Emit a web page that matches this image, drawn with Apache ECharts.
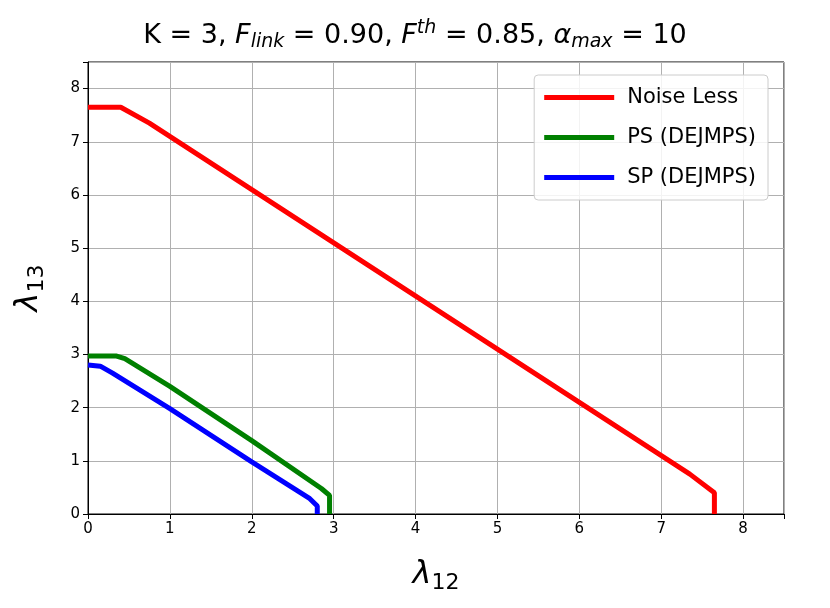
<!DOCTYPE html>
<html><head><meta charset="utf-8">
<script src="https://cdn.jsdelivr.net/npm/echarts@6/dist/echarts.min.js"></script>
<style>html,body{margin:0;padding:0;background:#fff}#c{width:830px;height:608px}</style>
</head><body><div id="c"></div>
<script>
const seriesNames = ['Noise Less', 'PS (DEJMPS)', 'SP (DEJMPS)'];
const colors = ['#ff0000', '#008000', '#0000ff'];
const noiseLess = [[0,7.65],[0.4,7.65],[0.75,7.35],[7.35,0.75],[7.65,0.4],[7.65,0]];
const psDejmps = [[0,2.97],[0.35,2.97],[0.45,2.92],[1,2.4],[2,1.38],[2.85,0.48],[2.95,0.35],[2.95,0]];
const spDejmps = [[0,2.8],[0.15,2.78],[0.3,2.65],[1,1.98],[2,0.98],[2.7,0.3],[2.8,0.15],[2.8,0]];
const allData = [noiseLess, psDejmps, spDejmps];
const chart = echarts.init(document.getElementById('c'));
const ff = 'DejaVu Sans';
const axisCommon = {
  min: 0, max: 8.5, interval: 1,
  axisLine: {show: true, lineStyle: {color: '#000', width: 1}},
  axisTick: {show: true, inside: false, length: 5, lineStyle: {color: '#000'}},
  axisLabel: {color: '#000', fontSize: 15, fontFamily: ff, formatter: v => Number.isInteger(v) ? String(v) : ''},
  splitLine: {show: true, lineStyle: {color: '#b0b0b0', width: 1}}
};
const nameRich = {a: {fontSize: 32, fontFamily: ff, fontStyle: 'italic', color: '#000'}, b: {fontSize: 22, fontFamily: ff, color: '#000', verticalAlign: 'bottom', padding: [16,0,0,0]}};
chart.setOption({
  animation: false,
  title: {
    left: 'center', top: 14,
    text: '{n|K = 3, }{i|F}{s|link}{n| = 0.90, }{i|F}{p|th}{n| = 0.85, }{i|α}{s|max}{n| = 10}',
    textStyle: {fontWeight: 'normal', rich: {
      n: {fontSize: 27, fontFamily: ff, fontWeight: 'normal', color: '#000'},
      i: {fontSize: 27, fontFamily: ff, fontWeight: 'normal', fontStyle: 'italic', color: '#000'},
      s: {fontSize: 19, fontFamily: ff, fontWeight: 'normal', fontStyle: 'italic', color: '#000', verticalAlign: 'bottom', padding: [14,0,0,0]},
      p: {fontSize: 19, fontFamily: ff, fontWeight: 'normal', fontStyle: 'italic', color: '#000', verticalAlign: 'top', padding: [0,0,12,0]}
    }}
  },
  grid: {left: 88, right: 46, top: 62, bottom: 94, show: true, borderColor: '#000', borderWidth: 1},
  legend: {
    data: seriesNames, orient: 'vertical', right: 62, top: 75,
    itemWidth: 70, itemHeight: 5, itemGap: 19, icon: 'rect',
    padding: [12, 12, 12, 10],
    backgroundColor: 'rgba(255,255,255,0.85)', borderColor: '#cccccc', borderWidth: 1, borderRadius: 4,
    textStyle: {fontSize: 21, fontFamily: ff, color: '#000', padding: [0,0,0,8]}
  },
  xAxis: Object.assign({type: 'value', name: '{a|λ}{b|12}', nameLocation: 'middle', nameGap: 42,
    nameTextStyle: {rich: nameRich}}, axisCommon),
  yAxis: Object.assign({type: 'value', name: '{a|λ}{b|13}', nameLocation: 'middle', nameGap: 40, nameRotate: 90,
    nameTextStyle: {rich: nameRich}}, axisCommon),
  series: seriesNames.map((n, i) => ({
    name: n, type: 'line', data: allData[i], showSymbol: false, symbol: 'none',
    lineStyle: {color: colors[i], width: 5}, itemStyle: {color: colors[i]}
  }))
});
</script></body></html>
